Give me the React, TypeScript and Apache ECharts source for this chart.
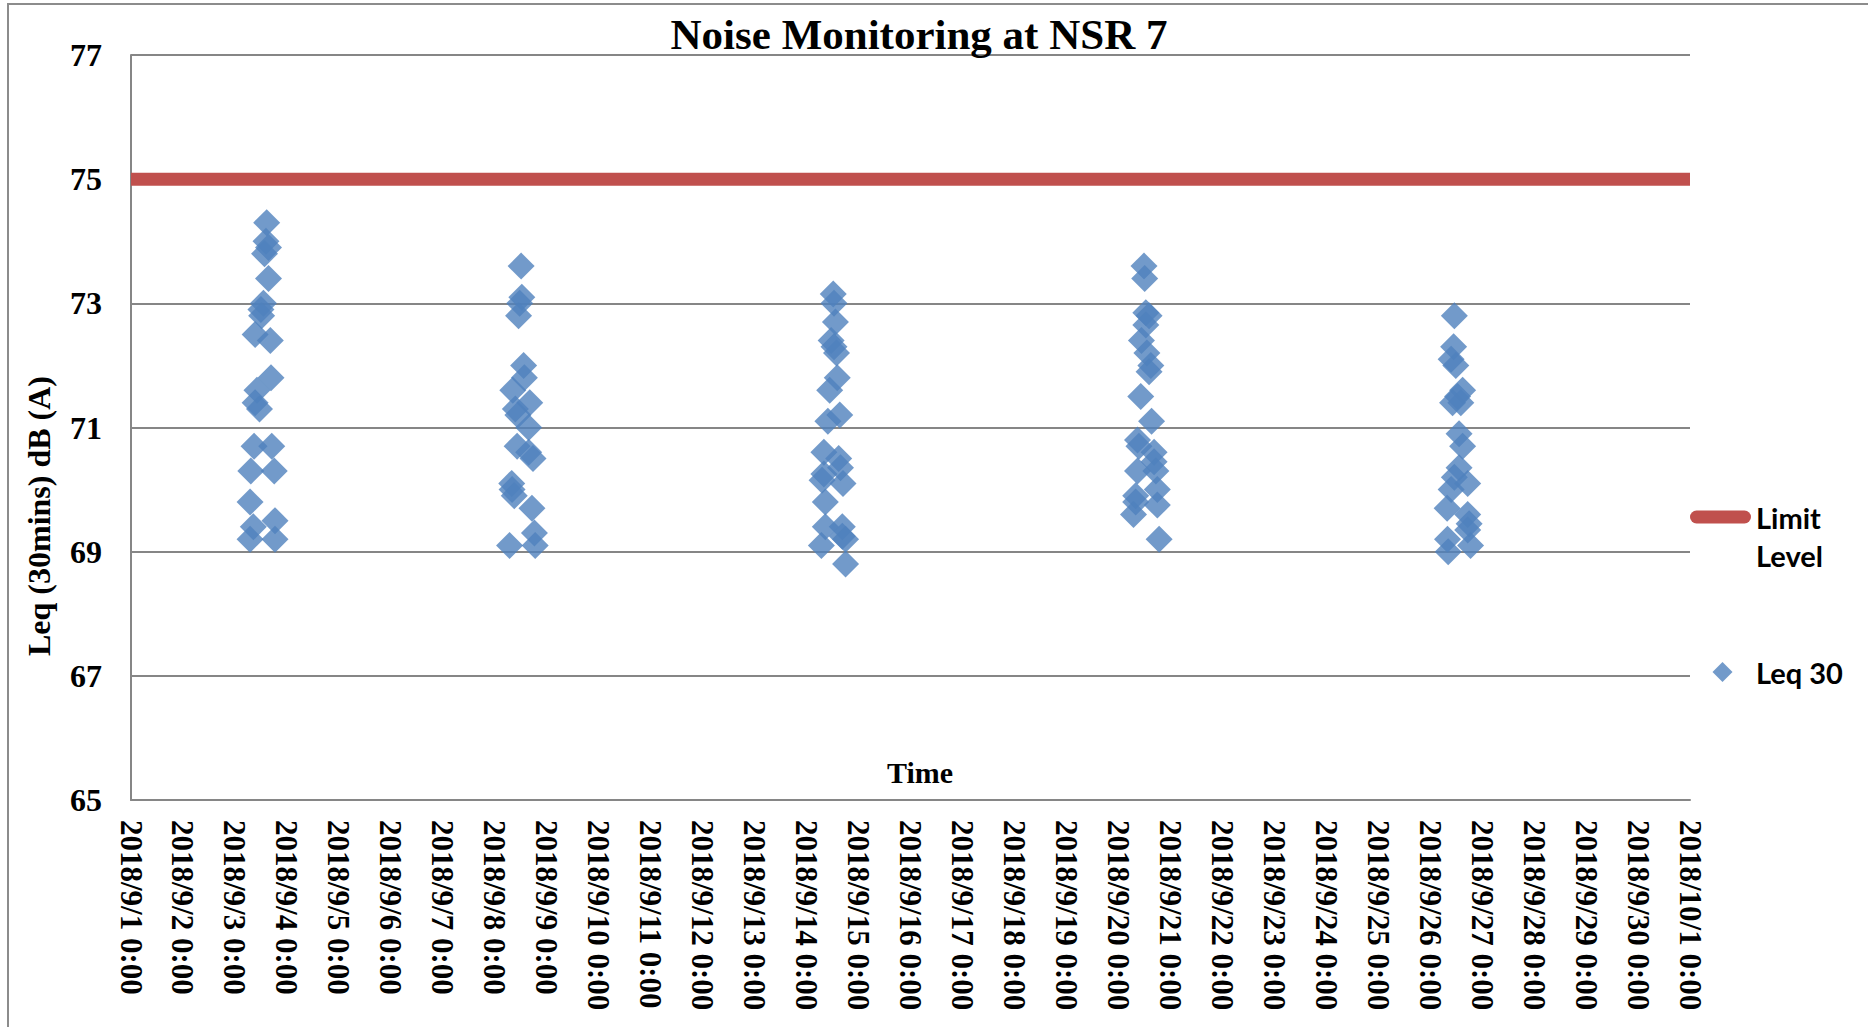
import React, { useEffect, useRef } from "react";
import * as echarts from "echarts";

const TITLE = "Noise Monitoring at NSR 7";
const Y_NAME = "Leq (30mins) dB (A)";
const X_NAME = "Time";
const START_DATE = "2018-09-01 00:00";
const END_DATE = "2018-10-01 00:00";
const LIMIT_LEVEL = 75;

const sep03: [string, number][] = [
  ["2018-09-03 14:40", 74.3], ["2018-09-03 14:20", 74.0], ["2018-09-03 15:30", 73.9],
  ["2018-09-03 13:40", 73.8], ["2018-09-03 15:30", 73.4], ["2018-09-03 13:10", 73.0],
  ["2018-09-03 12:00", 72.9], ["2018-09-03 12:20", 72.8], ["2018-09-03 09:20", 72.5],
  ["2018-09-03 16:20", 72.4], ["2018-09-03 16:40", 71.8], ["2018-09-03 10:10", 71.6],
  ["2018-09-03 09:20", 71.4], ["2018-09-03 11:20", 71.3], ["2018-09-03 08:50", 70.7],
  ["2018-09-03 17:00", 70.7], ["2018-09-03 07:20", 70.3], ["2018-09-03 18:10", 70.3],
  ["2018-09-03 07:00", 69.8], ["2018-09-03 18:30", 69.5], ["2018-09-03 08:30", 69.4],
  ["2018-09-03 07:00", 69.2], ["2018-09-03 18:30", 69.2],
];

const sep08: [string, number][] = [
  ["2018-09-08 12:10", 73.6], ["2018-09-08 12:30", 73.1], ["2018-09-08 11:30", 73.0],
  ["2018-09-08 11:00", 72.8], ["2018-09-08 13:20", 72.0], ["2018-09-08 13:40", 71.8],
  ["2018-09-08 08:20", 71.6], ["2018-09-08 16:10", 71.4], ["2018-09-08 09:30", 71.3],
  ["2018-09-08 10:40", 71.2], ["2018-09-08 15:40", 71.0], ["2018-09-08 10:20", 70.7],
  ["2018-09-08 15:40", 70.6], ["2018-09-08 17:40", 70.5], ["2018-09-08 07:50", 70.1],
  ["2018-09-08 08:00", 70.0], ["2018-09-08 09:00", 69.9], ["2018-09-08 17:10", 69.7],
  ["2018-09-08 18:20", 69.3], ["2018-09-08 06:50", 69.1], ["2018-09-08 18:40", 69.1],
];

const sep14: [string, number][] = [
  ["2018-09-14 12:20", 73.15], ["2018-09-14 12:40", 73.0], ["2018-09-14 13:20", 72.7],
  ["2018-09-14 11:20", 72.4], ["2018-09-14 12:40", 72.3], ["2018-09-14 13:50", 72.2],
  ["2018-09-14 14:10", 71.8], ["2018-09-14 10:40", 71.6], ["2018-09-14 15:20", 71.2],
  ["2018-09-14 09:50", 71.1], ["2018-09-14 08:00", 70.6], ["2018-09-14 14:50", 70.5],
  ["2018-09-14 15:40", 70.35], ["2018-09-14 08:00", 70.25], ["2018-09-14 07:10", 70.15],
  ["2018-09-14 16:50", 70.1], ["2018-09-14 08:40", 69.8], ["2018-09-14 08:40", 69.4],
  ["2018-09-14 16:30", 69.4], ["2018-09-14 16:30", 69.25], ["2018-09-14 18:00", 69.2],
  ["2018-09-14 06:50", 69.1], ["2018-09-14 18:00", 68.8],
];

const sep20: [string, number][] = [
  ["2018-09-20 11:50", 73.6], ["2018-09-20 12:10", 73.4], ["2018-09-20 12:40", 72.85],
  ["2018-09-20 14:10", 72.8], ["2018-09-20 12:40", 72.65], ["2018-09-20 10:40", 72.4],
  ["2018-09-20 13:10", 72.2], ["2018-09-20 15:00", 72.0], ["2018-09-20 14:10", 71.9],
  ["2018-09-20 10:20", 71.5], ["2018-09-20 15:20", 71.1], ["2018-09-20 08:50", 70.8],
  ["2018-09-20 09:30", 70.7], ["2018-09-20 16:30", 70.6], ["2018-09-20 16:30", 70.45],
  ["2018-09-20 08:50", 70.3], ["2018-09-20 17:20", 70.3], ["2018-09-20 18:00", 70.0],
  ["2018-09-20 08:00", 69.9], ["2018-09-20 08:00", 69.8], ["2018-09-20 18:00", 69.75],
  ["2018-09-20 07:00", 69.6], ["2018-09-20 18:50", 69.2],
];

const sep26: [string, number][] = [
  ["2018-09-26 11:10", 72.8], ["2018-09-26 10:50", 72.3], ["2018-09-26 09:40", 72.1],
  ["2018-09-26 11:50", 72.0], ["2018-09-26 15:00", 71.6], ["2018-09-26 12:40", 71.5],
  ["2018-09-26 10:20", 71.4], ["2018-09-26 14:10", 71.4], ["2018-09-26 13:20", 70.9],
  ["2018-09-26 15:00", 70.7], ["2018-09-26 13:20", 70.35], ["2018-09-26 11:10", 70.2],
  ["2018-09-26 17:20", 70.1], ["2018-09-26 09:40", 70.0], ["2018-09-26 07:50", 69.7],
  ["2018-09-26 17:20", 69.6], ["2018-09-26 18:00", 69.45], ["2018-09-26 17:20", 69.35],
  ["2018-09-26 08:00", 69.2], ["2018-09-26 18:40", 69.1], ["2018-09-26 08:20", 69.0],
];

const Y_MIN = 65;
const Y_MAX = 77;
const Y_STEP = 2;

const DAY_MS = 86400000;

function parseUTC(s: string): number {
  const [d, t] = s.split(" ");
  const [Y, M, D] = d.split("-").map(Number);
  const [h, mi] = t.split(":").map(Number);
  return Date.UTC(Y, M - 1, D, h, mi);
}

const T0 = parseUTC(START_DATE);
const toDay = (s: string) => (parseUTC(s) - T0) / DAY_MS;
const X_MAX = toDay(END_DATE);

function dayLabel(v: number): string {
  const dt = new Date(T0 + Math.round(v) * DAY_MS);
  return `${dt.getUTCFullYear()}/${dt.getUTCMonth() + 1}/${dt.getUTCDate()} 0:00`;
}

const SERIF = "'Liberation Serif', 'Times New Roman', serif";
const SANS = "Lato, 'Open Sans', sans-serif";
const GRAY = "#868686";
const RED = "#C0504D";
const BLUE = "#4F81BD";

export default function App() {
  const ref = useRef<HTMLDivElement>(null);

  useEffect(() => {
    document.body.style.margin = "0";
    if (!ref.current) return;
    const chart = echarts.init(ref.current, undefined, { renderer: "svg" });

    const leqData = [...sep03, ...sep08, ...sep14, ...sep20, ...sep26].map(
      ([t, v]) => [toDay(t), v]
    );

    chart.setOption({
      animation: false,
      backgroundColor: "#ffffff",
      title: {
        text: TITLE,
        left: 914,
        top: 8,
        textAlign: "center",
        textStyle: { fontFamily: SERIF, fontWeight: "bold", fontSize: 43, color: "#000" },
      },
      grid: { left: 131, right: 178, top: 55, bottom: 227, containLabel: false },
      legend: [
        {
          data: ["Limit Level"],
          orient: "vertical",
          left: 1690,
          top: 460,
          padding: 0,
          selectedMode: false,
          itemWidth: 61,
          itemHeight: 13,
          symbolKeepAspect: false,
          icon: "path://M6.5,0 H54.5 A6.5,6.5 0 0 1 54.5,13 H6.5 A6.5,6.5 0 0 1 6.5,0 Z",
          formatter: () => "\nLimit\nLevel",
          textStyle: {
            fontFamily: SANS,
            fontWeight: "bold",
            fontSize: 29,
            color: "#000",
            lineHeight: 38,
          },
        },
        {
          data: ["Leq 30"],
          orient: "vertical",
          left: 1690,
          top: 653,
          padding: 0,
          selectedMode: false,
          itemWidth: 61,
          itemHeight: 20,
          symbolKeepAspect: false,
          icon: "path://M0,10 M32.5,0 L42.5,10 L32.5,20 L22.5,10 Z M61,10",
          textStyle: {
            fontFamily: SANS,
            fontWeight: "bold",
            fontSize: 29,
            color: "#000",
            lineHeight: 38,
          },
        },
      ],
      xAxis: {
        type: "value",
        min: 0,
        max: X_MAX,
        interval: 1,
        splitLine: { show: false },
        axisTick: { show: false },
        axisLine: { show: true, lineStyle: { color: GRAY, width: 2 } },
        axisLabel: {
          rotate: -90,
          margin: 20,
          fontFamily: SERIF,
          fontWeight: "bold",
          fontSize: 31,
          color: "#000",
          formatter: (v: number) => dayLabel(v),
        },
      },
      yAxis: {
        type: "value",
        min: Y_MIN,
        max: Y_MAX,
        interval: Y_STEP,
        axisTick: { show: false },
        axisLine: { show: true, lineStyle: { color: GRAY, width: 2 } },
        splitLine: { show: true, lineStyle: { color: GRAY, width: 2 } },
        axisLabel: {
          margin: 29,
          fontFamily: SERIF,
          fontWeight: "bold",
          fontSize: 32,
          color: "#000",
        },
      },
      graphic: [
        {
          type: "rect",
          shape: { x: 8, y: 4, width: 1900, height: 1100 },
          style: { fill: "none", stroke: "#8c8c8c", lineWidth: 2 },
          silent: true,
          z: -10,
        },
        {
          type: "text",
          x: 920,
          y: 772,
          style: {
            text: X_NAME,
            fontFamily: SERIF,
            fontWeight: "bold",
            fontSize: 30,
            fill: "#000",
            align: "center",
            verticalAlign: "middle",
          },
        },
        {
          type: "text",
          x: 39,
          y: 516,
          rotation: Math.PI / 2,
          style: {
            text: Y_NAME,
            fontFamily: SERIF,
            fontWeight: "bold",
            fontSize: 32,
            fill: "#000",
            align: "center",
            verticalAlign: "middle",
          },
        },
      ],
      series: [
        {
          name: "Limit Level",
          type: "line",
          data: [
            [0, LIMIT_LEVEL],
            [X_MAX, LIMIT_LEVEL],
          ],
          symbol: "none",
          lineStyle: { color: RED, width: 13 },
          itemStyle: { color: RED },
          z: 1,
        },
        {
          name: "Leq 30",
          type: "scatter",
          data: leqData,
          symbol: "diamond",
          symbolSize: 27,
          itemStyle: { color: BLUE },
          z: 2,
        },
      ],
    });

    return () => chart.dispose();
  }, []);

  return (
    <div
      ref={ref}
      style={{ position: "fixed", left: 0, top: 0, width: 1868, height: 1027, background: "#fff" }}
    />
  );
}
